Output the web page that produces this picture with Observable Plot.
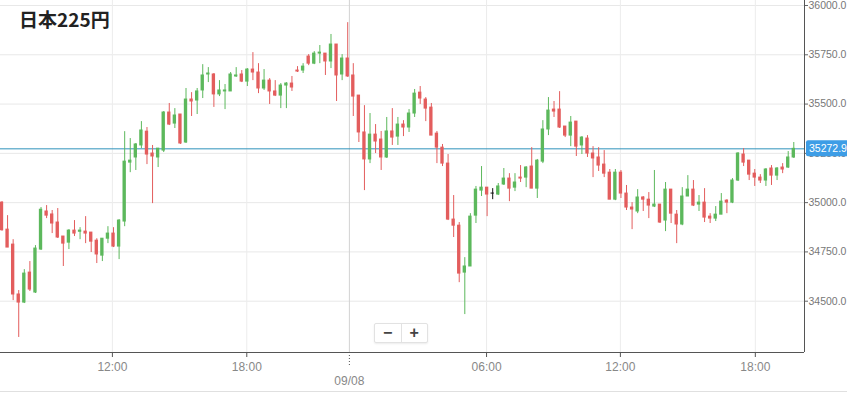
<!DOCTYPE html>
<html><head><meta charset="utf-8">
<script src="https://cdn.jsdelivr.net/npm/d3@7"></script>
<script src="https://cdn.jsdelivr.net/npm/@observablehq/plot@0.6"></script>
<style>
html,body{margin:0;padding:0;background:#fff;}
#wrap{position:relative;width:847px;height:394px;overflow:hidden;font-family:"Liberation Sans",Arial,sans-serif;}
#title{position:absolute;left:19px;top:7px;font-family:"Noto Sans CJK JP",sans-serif;font-weight:bold;font-size:19px;color:#222;line-height:24px;}
#zoom{position:absolute;left:374px;top:323px;width:52px;height:18px;border:1px solid #e2e2e2;border-radius:2px;box-shadow:0 1px 2px rgba(0,0,0,0.08);background:#fff;display:flex;}
#zoom span{flex:1;text-align:center;font:bold 16px/18px "Liberation Sans",Arial,sans-serif;color:#444;}
#zoom span:first-child{border-right:1px solid #e2e2e2;}
#bottomline{position:absolute;left:0;top:391px;width:847px;height:1px;background:#e0e0e0;}
</style></head>
<body><div id="wrap"><div id="chart"></div><div id="title">日本225円</div><div id="zoom"><span>−</span><span>+</span></div><div id="bottomline"></div></div>
<script>
const open = [35000,34863,34787,34534,34493,34645,34544,34762,34955,34940,34899,34828,34797,34858,34852,34853,34848,34807,34731,34817,34843,34777,34904,35203,35229,35290,35360,35249,35229,35264,35457,35401,35447,35305,35523,35518,35569,35650,35650,35549,35564,35564,35640,35650,35614,35675,35660,35579,35619,35564,35543,35594,35604,35670,35670,35741,35705,35756,35756,35716,35802,35650,35731,35645,35543,35356,35219,35345,35320,35229,35361,35335,35396,35381,35452,35558,35523,35482,35350,35279,35198,34914,34883,34645,34676,34934,35061,35076,35046,35041,35092,35122,35076,35127,35127,35183,35071,35208,35371,35472,35472,35386,35340,35411,35290,35325,35249,35229,35193,35152,35015,35152,35046,34975,34955,35026,35015,34980,34990,34909,35066,34939,34889,35031,35066,34990,35000,34929,34919,34939,35010,35000,35112,35244,35213,35147,35127,35112,35173,35137,35178,35178,35229];
const high = [35005,34934,34812,34554,34660,34701,34782,34975,34985,34960,34970,34828,34863,34909,34873,34929,34848,34817,34817,34878,34873,34914,35360,35325,35300,35411,35381,35290,35274,35462,35503,35477,35447,35579,35558,35579,35700,35685,35655,35619,35599,35660,35685,35670,35680,35761,35705,35675,35629,35619,35604,35609,35640,35690,35705,35751,35766,35797,35756,35853,35802,35751,35913,35705,35543,35492,35452,35396,35361,35432,35477,35432,35416,35472,35574,35589,35533,35503,35361,35295,35244,35036,34899,34721,34944,35082,35183,35076,35071,35097,35173,35147,35147,35188,35183,35279,35219,35416,35533,35513,35563,35386,35437,35411,35335,35340,35284,35279,35264,35168,35168,35163,35087,35000,35066,35031,35051,35163,34990,35102,35066,34960,35076,35137,35112,35036,35071,34944,34980,35046,35015,35122,35254,35274,35213,35168,35142,35173,35188,35178,35198,35259,35305];
const low = [34855,34772,34503,34316,34488,34549,34539,34757,34919,34843,34818,34676,34762,34828,34812,34792,34747,34691,34701,34792,34772,34711,34878,35152,35163,35274,35193,34995,35178,35254,35391,35376,35295,35300,35437,35447,35528,35609,35483,35538,35472,35564,35635,35609,35589,35619,35553,35569,35498,35538,35477,35477,35564,35660,35655,35695,35700,35705,35645,35680,35513,35619,35635,35437,35305,35061,35198,35249,35163,35224,35290,35290,35335,35356,35432,35498,35411,35340,35198,35183,34909,34823,34594,34432,34676,34894,35031,34929,35015,35036,35087,35005,35056,35102,35076,35071,35021,35198,35340,35432,35376,35330,35284,35234,35244,35229,35127,35158,35127,35015,35010,35021,34960,34863,34944,34955,34919,34975,34894,34853,34894,34792,34883,35031,34980,34955,34899,34894,34904,34939,34944,34995,35107,35183,35112,35082,35097,35082,35087,35112,35147,35173,35224];
const close = [34860,34772,34534,34493,34640,34559,34767,34964,34934,34894,34823,34792,34858,34843,34858,34843,34802,34737,34817,34843,34777,34909,35208,35213,35295,35366,35244,35234,35274,35457,35396,35442,35300,35523,35513,35564,35645,35655,35549,35569,35569,35650,35645,35614,35675,35660,35579,35619,35564,35543,35594,35604,35584,35665,35690,35705,35756,35761,35716,35802,35645,35731,35640,35538,35356,35219,35345,35310,35229,35361,35330,35396,35381,35452,35553,35528,35477,35340,35279,35198,34914,34883,34640,34676,34929,35066,35076,35041,35046,35082,35122,35071,35102,35122,35178,35071,35213,35371,35467,35462,35381,35340,35406,35284,35330,35249,35224,35188,35147,35015,35152,35046,34975,34965,35026,35015,34985,34990,34899,35066,34944,34889,35031,35066,34985,35000,34924,34919,34939,35005,35000,35112,35249,35203,35142,35127,35112,35168,35137,35173,35168,35229,35272.9];
const lastPrice = 35272.9;
const yTicks = [34500, 34750, 35000, 35250, 35500, 35750, 36000];
const xTickPos = [20.8, 44.9, 87.9, 111.9, 136.1];
const xTickLabels = ["12:00", "18:00", "06:00", "12:00", "18:00"];
const dateTickPos = 63.3;
const dateTickLabel = "09/08";

const green = "#5cb85c", red = "#e35d5d";
const candles = open.map((o, k) => ({i: k + 1, o, h: high[k], l: low[k], c: close[k]}));
const up = candles.filter(d => d.c > d.o);
const down = candles.filter(d => d.c < d.o);
const flat = candles.filter(d => d.c === d.o);
const labelMap = new Map(xTickPos.map((p, k) => [p, xTickLabels[k]]));
const xDomain = [0.731, 144.92];
const yDomain = [34239.7, 36025.4];
const hw = 0.3;

function body(data, color) {
  return Plot.rect(data, {x1: d => d.i - hw, x2: d => d.i + hw, y1: "o", y2: "c", fill: color, insetTop: -0.5, insetBottom: -0.5});
}
function wick(data, color) {
  return Plot.ruleX(data, {x: "i", y1: "l", y2: "h", stroke: color, strokeWidth: 1});
}

const chart = Plot.plot({
  width: 847, height: 394,
  marginLeft: 0, marginRight: 43, marginTop: 0, marginBottom: 42,
  style: {fontFamily: '"Liberation Sans", Arial, sans-serif', background: "#fff"},
  x: {domain: xDomain, axis: null, label: null},
  y: {domain: yDomain, axis: null, label: null},
  marks: [
    Plot.ruleY(yTicks, {stroke: "#e8e8e8"}),
    Plot.ruleX(xTickPos, {stroke: "#ececec"}),
    Plot.ruleX([dateTickPos], {stroke: "#d2d2d2"}),
    Plot.ruleY([lastPrice], {stroke: "#2f93bb", strokeWidth: 1}),
    wick(up, green), wick(down, red), wick(flat, "#111"),
    body(up, green), body(down, red), body(flat, "#111"),
    Plot.ruleX([xDomain[1]], {stroke: "#555"}),
    Plot.ruleY([yDomain[0]], {stroke: "#555"}),
    Plot.axisY(yTicks, {anchor: "right", label: null, tickSize: 3, tickPadding: 1, tickFormat: d => d.toFixed(1), fontSize: 10.5, fill: "#777", stroke: "#666"}),
    Plot.axisX(xTickPos, {anchor: "bottom", label: null, tickSize: 5, tickPadding: 5, tickFormat: d => labelMap.get(d), fontSize: 12, fill: "#888", stroke: "#555"}),
    Plot.axisX([dateTickPos], {anchor: "bottom", label: null, tickSize: 13, tickFormat: () => "", stroke: "#555", strokeDasharray: "1,2"}),
    Plot.axisX([dateTickPos], {anchor: "bottom", label: null, tickSize: 0, tickPadding: 24, tickFormat: () => dateTickLabel, fontSize: 12, fill: "#888"})
  ]
});
document.getElementById("chart").appendChild(chart);

// price tag on the right axis
const svg = d3.select(chart);
const py = chart.scale("y").apply(lastPrice);
const g = svg.append("g");
g.append("rect").attr("x", 806).attr("y", py - 8).attr("width", 45).attr("height", 16).attr("rx", 2).attr("fill", "#3d9de6");
g.append("text").attr("x", 809).attr("y", py).attr("dy", "0.35em").attr("fill", "#fff").attr("text-anchor", "start")
  .attr("font-size", 10.5).attr("font-family", '"Liberation Sans", Arial, sans-serif').text(lastPrice.toFixed(1));
</script></body></html>
